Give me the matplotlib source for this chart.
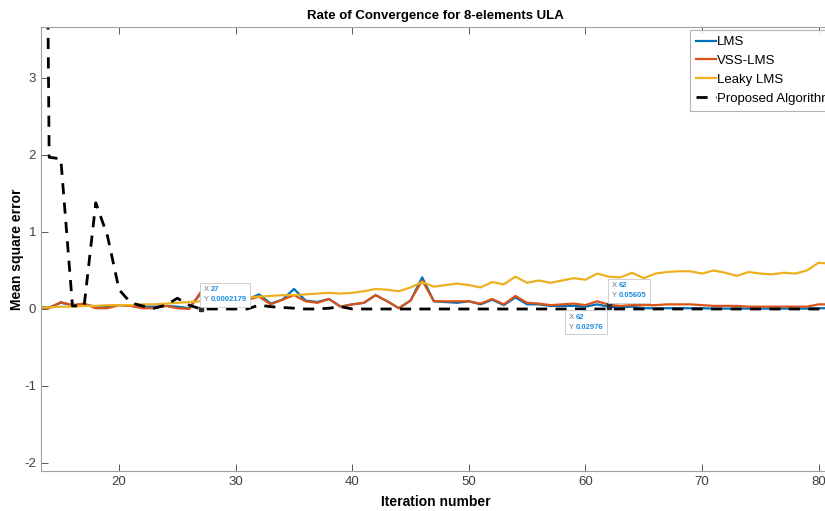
import matplotlib
matplotlib.use("Agg")
import matplotlib.pyplot as plt

plt.rcParams.update({
    "font.family": ["Liberation Sans", "DejaVu Sans"],
    "font.size": 9,
    "axes.unicode_minus": False,
})

# ── data ──────────────────────────────────────────────────────────────────────
iters = list(range(13, 82))

lms = [0.03, 0.02, 0.08, 0.05, 0.06, 0.03, 0.03, 0.05, 0.04, 0.03,
       0.03, 0.04, 0.03, 0.01, 0.20, 0.09, 0.12, 0.10, 0.12, 0.19,
       0.07, 0.12, 0.26, 0.11, 0.09, 0.13, 0.03, 0.06, 0.08, 0.18,
       0.10, 0.01, 0.11, 0.41, 0.10, 0.09, 0.08, 0.10, 0.06, 0.12,
       0.05, 0.15, 0.06, 0.06, 0.04, 0.04, 0.04, 0.03, 0.06, 0.02976,
       0.02, 0.03, 0.01, 0.01, 0.01, 0.01, 0.01, 0.01, 0.005, 0.005,
       0.005, 0.005, 0.005, 0.005, 0.005, 0.005, 0.005, 0.01, 0.01]

vss_lms = [0.02, 0.01, 0.09, 0.05, 0.07, 0.01, 0.01, 0.05, 0.04, 0.01,
           0.01, 0.04, 0.01, 0.00, 0.22, 0.09, 0.12, 0.10, 0.12, 0.16,
           0.06, 0.12, 0.18, 0.10, 0.08, 0.13, 0.03, 0.06, 0.08, 0.18,
           0.10, 0.01, 0.11, 0.37, 0.10, 0.10, 0.10, 0.10, 0.07, 0.13,
           0.06, 0.17, 0.08, 0.07, 0.05, 0.06, 0.07, 0.05, 0.10, 0.05605,
           0.04, 0.05, 0.05, 0.05, 0.06, 0.06, 0.06, 0.05, 0.04, 0.04,
           0.04, 0.03, 0.03, 0.03, 0.03, 0.03, 0.03, 0.06, 0.06]

leaky_lms = [0.02, 0.02, 0.03, 0.03, 0.04, 0.04, 0.05, 0.05, 0.05, 0.06,
             0.06, 0.07, 0.08, 0.09, 0.10, 0.12, 0.13, 0.14, 0.15, 0.16,
             0.17, 0.18, 0.18, 0.19, 0.20, 0.21, 0.20, 0.21, 0.23, 0.26,
             0.25, 0.23, 0.28, 0.35, 0.29, 0.31, 0.33, 0.31, 0.28, 0.35,
             0.32, 0.42, 0.34, 0.37, 0.34, 0.37, 0.40, 0.38, 0.46, 0.42,
             0.41, 0.47, 0.40, 0.46, 0.48, 0.49, 0.49, 0.46, 0.50, 0.47,
             0.43, 0.48, 0.46, 0.45, 0.47, 0.46, 0.50, 0.60, 0.59]

proposed = [20.0, 1.97, 1.95, 0.04, 0.04, 1.38, 0.95, 0.25, 0.08, 0.04,
            0.01, 0.05, 0.14, 0.05, 0.0002179, 0.0, 0.0, 0.0, 0.0, 0.05,
            0.03, 0.02, 0.01, 0.0, 0.0, 0.01, 0.03, 0.0, 0.0, 0.0,
            0.0, 0.0, 0.0, 0.0, 0.0, 0.0, 0.0, 0.0, 0.0, 0.0,
            0.0, 0.0, 0.0, 0.0, 0.0, 0.0, 0.0, 0.0, 0.0, 0.0,
            0.0, 0.0, 0.0, 0.0, 0.0, 0.0, 0.0, 0.0, 0.0, 0.0,
            0.0, 0.0, 0.0, 0.0, 0.0, 0.0, 0.0, 0.0, 0.0]

# datatips: (x, y, text offset in points, vertical alignment)
tips = [(27, 0.0002179, (2, 4), "bottom"),
        (62, 0.05605, (2, 4), "bottom"),
        (62, 0.02976, (-29, -5), "top")]

# ── figure ────────────────────────────────────────────────────────────────────
fig = plt.figure(figsize=(8.25, 5.11), dpi=100)
ax = fig.add_axes([41 / 825, 40 / 511, 789 / 825, 444 / 511])

ax.plot(iters, lms, color="#0072BD", linewidth=1.6, label="LMS")
ax.plot(iters, vss_lms, color="#D95319", linewidth=1.6, label="VSS-LMS")
ax.plot(iters, leaky_lms, color="#EDB120", linewidth=1.6, label="Leaky LMS")
ax.plot(iters, proposed, color="black", linewidth=2.0, linestyle=(0, (4, 3)),
        label="Proposed Algorithm")

ax.set_xlim(13.3, 80.98)
ax.set_ylim(-2.104, 3.662)
ax.set_xticks([20, 30, 40, 50, 60, 70, 80])
ax.set_yticks([-2, -1, 0, 1, 2, 3])
ax.tick_params(direction="in", length=5, top=True, right=False,
               colors="#404040", labelsize=9.5, width=0.6)
for s in ax.spines.values():
    s.set_color("#a0a0a0")
    s.set_linewidth(0.8)

ax.set_title("Rate of Convergence for 8-elements ULA", fontsize=9.5,
             fontweight="bold", pad=6)
ax.set_xlabel("Iteration number", fontsize=10, fontweight="bold", labelpad=5)
ax.set_ylabel("Mean square error", fontsize=10, fontweight="bold")
ax.yaxis.set_label_coords(-17 / 789, 0.5)

# datatips
for x, y, off, va in tips:
    ax.plot([x], [y], marker="s", markersize=2.5, color="#303030", zorder=6)
    ax.annotate(f"X {x}\nY {y:g}", xy=(x, y), xytext=off,
                textcoords="offset points", ha="left", va=va, fontsize=5.5,
                color="none", fontweight="bold", linespacing=1.6, zorder=7,
                bbox=dict(boxstyle="square,pad=0.45", fc="white",
                          ec="#c8c8c8", lw=0.6))
    ax.annotate("X\nY", xy=(x, y), xytext=off, textcoords="offset points",
                ha="left", va=va, fontsize=5.5, color="#707070",
                linespacing=1.6, zorder=8)
    ax.annotate(f"{x}\n{y:g}", xy=(x, y), xytext=(off[0] + 5.5, off[1]),
                textcoords="offset points", ha="left", va=va,
                fontsize=5.5, color="#1f8fe0", fontweight="bold",
                linespacing=1.6, zorder=8)

leg = ax.legend(loc="upper left", bbox_to_anchor=(690 / 825, 1 - 30 / 511),
                bbox_transform=fig.transFigure, fontsize=9.5, frameon=True,
                fancybox=False, handlelength=1.5, handletextpad=0.1,
                borderpad=0.45, labelspacing=0.5, borderaxespad=0)
leg.get_frame().set_edgecolor("#a0a0a0")
leg.get_frame().set_linewidth(0.8)

fig.savefig("out.png", dpi=100)
